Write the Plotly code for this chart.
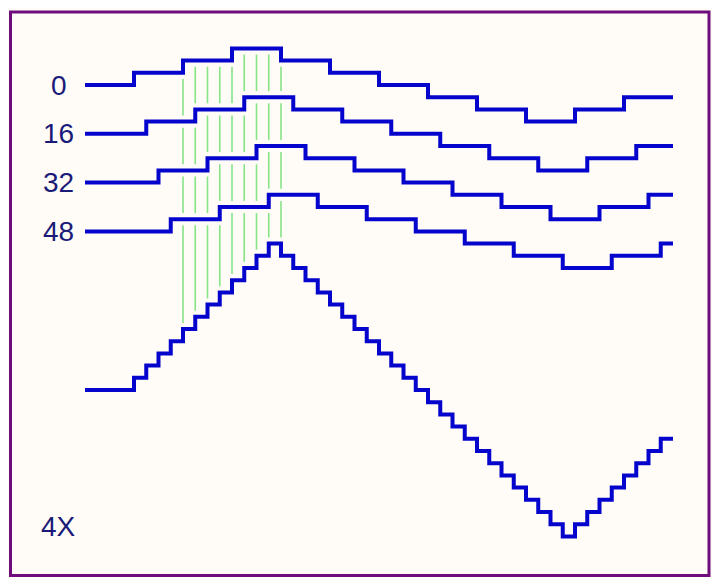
import plotly.graph_objects as go

# ---- data ----
phases = [0, 16, 32, 48]            # phase offset of each sampled waveform
phase_labels = ["0", "16", "32", "48"]
sample_period = 64                  # one sample period in phase units
levels = [0, 1, 2, 3, 2, 1, 0, -1, -2, -3, -2, -1]   # quantised triangle wave, one level per sample
t_end = 768
row_offsets = [0, -4, -8, -12]      # vertical offset of each waveform row (in level units)
sum_offset = -25                    # vertical offset of the combined 4X waveform
green_times = [128, 144, 160, 176, 192, 208, 224, 240, 256]
corner_label = "4X"

BLUE = "#0404CC"
GREEN = "#86E486"
TEXT = "#1A1A78"
BG = "#FFFCF7"
PURPLE = "#6E0C7C"
GAP = 0.5


def step_times(p):
    return [sample_period * k + p for k in range(1, len(levels))]


def level_at(p, t, side):
    """Level of waveform with phase p at time t; side=-1 left limit, +1 right limit."""
    ts = step_times(p)
    idx = 0
    for st in ts:
        if t > st or (t == st and side > 0):
            idx += 1
    return levels[idx]


def wave_xy(p, off):
    xs = [0] + step_times(p) + [t_end]
    ys = [v + off for v in levels] + [levels[-1] + off]
    return xs, ys


# combined waveform
all_steps = sorted(set(t for p in phases for t in step_times(p)))
sum_x = [0] + all_steps + [t_end]
sum_vals = [sum(level_at(p, t, +1) for p in phases) for t in [0] + all_steps]
sum_y = [v + sum_offset for v in sum_vals] + [sum_vals[-1] + sum_offset]


def sum_at(t, side):
    return sum(level_at(p, t, side) for p in phases)


# green guide segments between rows
gx, gy = [], []
for t in green_times:
    for i in range(len(phases)):
        up_vals = [level_at(phases[i], t, s) for s in (-1, 1)]
        top = min(up_vals) + row_offsets[i] - GAP
        if i + 1 < len(phases):
            lo_vals = [level_at(phases[i + 1], t, s) for s in (-1, 1)]
            bot = max(lo_vals) + row_offsets[i + 1] + GAP
        else:
            bot = max(sum_at(t, -1), sum_at(t, 1)) + sum_offset + GAP
        gx += [t, t, None]
        gy += [top, bot, None]

fig = go.Figure()
fig.add_trace(go.Scatter(x=gx, y=gy, mode="lines",
                         line=dict(color=GREEN, width=1.6), hoverinfo="skip"))
for p, off in zip(phases, row_offsets):
    xs, ys = wave_xy(p, off)
    fig.add_trace(go.Scatter(x=xs, y=ys, mode="lines",
                             line=dict(color=BLUE, width=4, shape="hv")))
fig.add_trace(go.Scatter(x=sum_x, y=sum_y, mode="lines",
                         line=dict(color=BLUE, width=4, shape="hv")))

# labels
FONT = dict(family="Liberation Sans, Arial", size=28, color=TEXT)
label_x = -34
for lab, off in zip(phase_labels, row_offsets):
    fig.add_annotation(x=label_x, y=off, text=lab, showarrow=False,
                       xanchor="center", yanchor="middle", font=FONT)
fig.add_annotation(x=label_x, y=-36.2, text=corner_label, showarrow=False,
                   xanchor="center", yanchor="middle", font=FONT)

# the page body has an 8px margin, so the figure is placed at (8, 8)
W, H = 712, 570
fig.add_shape(type="rect", xref="paper", yref="paper",
              x0=2.5 / W, x1=701 / W, y0=1 - 567.5 / H, y1=1 - 4 / H,
              line=dict(color=PURPLE, width=3), fillcolor="rgba(0,0,0,0)")

px_per_t = 49 / 64
px_per_level = 12.2
x0_px = 77
y0_px = 77
fig.update_layout(
    width=W, height=H,
    margin=dict(l=0, r=0, t=0, b=0),
    paper_bgcolor=BG, plot_bgcolor=BG,
    showlegend=False,
    xaxis=dict(range=[-x0_px / px_per_t, (W - x0_px) / px_per_t],
               visible=False, fixedrange=True),
    yaxis=dict(range=[(y0_px - H) / px_per_level, y0_px / px_per_level],
               visible=False, fixedrange=True),
)
fig.write_html("out.html")
